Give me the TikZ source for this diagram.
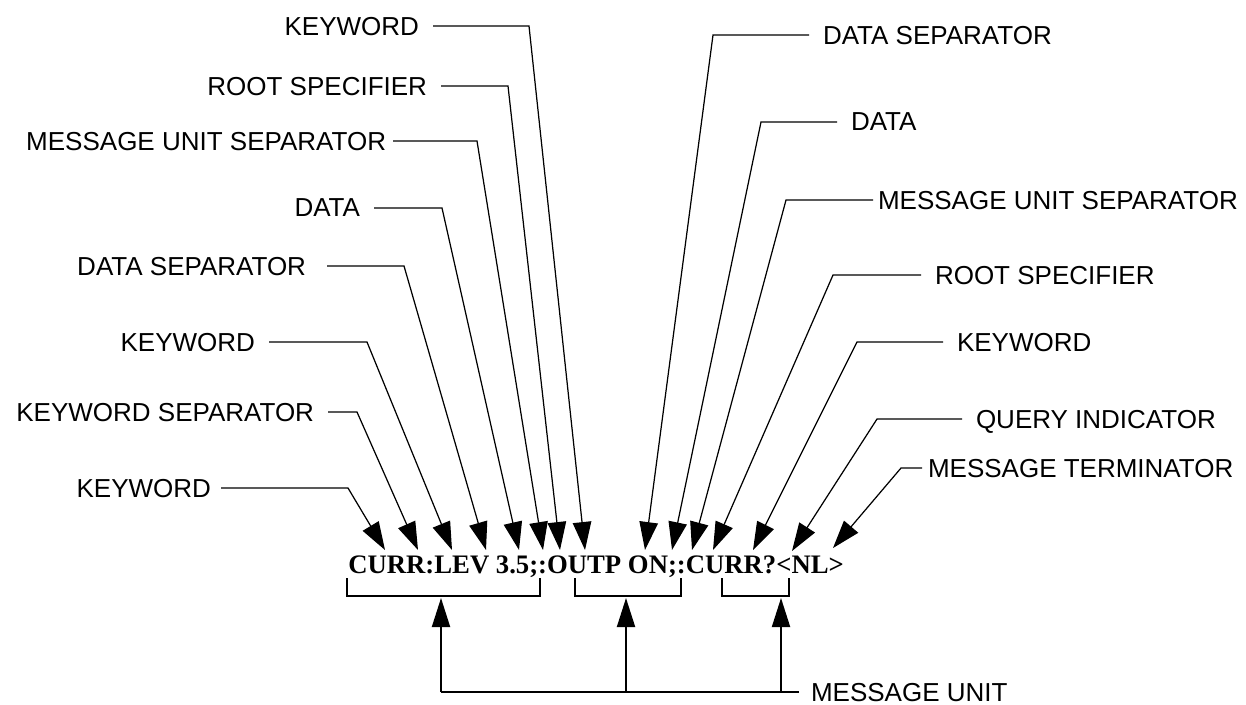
\documentclass[tikz,border=0pt]{standalone}
\usepackage{fontspec}
\setmainfont{Liberation Sans}
\newfontfamily\cmdfont{Liberation Serif}
\usetikzlibrary{arrows.meta}
\tikzstyle{partname}=[inner ysep=0pt, inner xsep=0.28cm, outer sep=0pt, text depth=0pt, font=\fontsize{14.8}{17}\selectfont]
\tikzstyle{pointer}=[-{Triangle[length=0.56cm,width=0.37cm]}, line width=0.7pt]
\tikzstyle{bracket}=[line width=1.1pt]
\tikzstyle{unitarrow}=[-{Triangle[length=0.58cm,width=0.36cm]}, line width=1.1pt]
\begin{document}
\begin{tikzpicture}[x=0.02cm,y=-0.02cm]
  \useasboundingbox (0,0) rectangle (1246,704);
  \draw (348,573) node[anchor=base west, inner sep=0pt, font=\cmdfont\bfseries\fontsize{15.2}{18}\selectfont] (cmd) {CURR:LEV 3.5;:OUTP ON;:CURR?<NL>};

  %% Points on the command
  \coordinate (T1) at (385,550);
  \coordinate (T2) at (418,550);
  \coordinate (T3) at (452,550);
  \coordinate (T4) at (486,550);
  \coordinate (T5) at (519,550);
  \coordinate (T6) at (543,550);
  \coordinate (T7) at (560,550);
  \coordinate (T8) at (585,550);
  \coordinate (T9) at (645,550);
  \coordinate (T10) at (672,550);
  \coordinate (T11) at (692,550);
  \coordinate (T12) at (713,550);
  \coordinate (T13) at (753,550);
  \coordinate (T14) at (792,551);
  \coordinate (T15) at (833,548);

  %% Left side
  \draw (433,26) node[partname,anchor=east] (kwA) {KEYWORD};
  \draw (441,86) node[partname,anchor=east] (rootA) {ROOT SPECIFIER};
  \draw (393,141) node[partname,anchor=east,inner xsep=0.14cm] (musA) {MESSAGE UNIT SEPARATOR};
  \draw (374,208) node[partname,anchor=east] (dataA) {DATA};
  \draw (327,266) node[partname,anchor=east,inner xsep=0.42cm] (dsepA) {DATA SEPARATOR};
  \draw (269,342) node[partname,anchor=east] (kwB) {KEYWORD};
  \draw (328,412) node[partname,anchor=east] (ksep) {KEYWORD SEPARATOR};
  \draw (221,488) node[partname,anchor=east,inner xsep=0.2cm] (kwC) {KEYWORD};

  \draw[pointer] (kwA) -- (529,26) -- (T8);
  \draw[pointer] (rootA) -- (508,86) -- (T7);
  \draw[pointer] (musA) -- (477,141) -- (T6);
  \draw[pointer] (dataA) -- (442,208) -- (T5);
  \draw[pointer] (dsepA) -- (404,266) -- (T4);
  \draw[pointer] (kwB) -- (367,342) -- (T3);
  \draw[pointer] (ksep) -- (357,412) -- (T2);
  \draw[pointer] (kwC) -- (348,488) -- (T1);

  %% Right side
  \draw (809,35) node[partname,anchor=west] (dsepB) {DATA SEPARATOR};
  \draw (837,122) node[partname,anchor=west] (dataB) {DATA};
  \draw (873,200) node[partname,anchor=west,inner xsep=0.1cm] (musB) {MESSAGE UNIT SEPARATOR};
  \draw (921,275) node[partname,anchor=west] (rootB) {ROOT SPECIFIER};
  \draw (943,342) node[partname,anchor=west] (kwD) {KEYWORD};
  \draw (962,419) node[partname,anchor=west] (query) {QUERY INDICATOR};
  \draw (922,468) node[partname,anchor=west,inner xsep=0.12cm] (term) {MESSAGE TERMINATOR};

  \draw[pointer] (dsepB) -- (713,35) -- (T9);
  \draw[pointer] (dataB) -- (761,122) -- (T10);
  \draw[pointer] (musB) -- (786,200) -- (T11);
  \draw[pointer] (rootB) -- (833,275) -- (T12);
  \draw[pointer] (kwD) -- (857,342) -- (T13);
  \draw[pointer] (query) -- (877,419) -- (T14);
  \draw[pointer] (term) -- (901,468) -- (T15);

  %% Message units
  \draw[bracket] (347,578) -- (347,596) -- (540,596) -- (540,578);
  \draw[bracket] (575,578) -- (575,596) -- (681,596) -- (681,578);
  \draw[bracket] (722,578) -- (722,596) -- (789,596) -- (789,578);
  \coordinate (M1) at (441,598);
  \coordinate (M2) at (626,598);
  \coordinate (M3) at (781,598);
  \coordinate (B1) at (441,692);
  \coordinate (B2) at (626,692);
  \coordinate (B3) at (781,692);
  \draw (799,692) node[partname,anchor=west,inner xsep=0.24cm] (unit) {MESSAGE UNIT};
  \draw[bracket] (unit) -- (B1);
  \draw[unitarrow] (B1) -- (M1);
  \draw[unitarrow] (B2) -- (M2);
  \draw[unitarrow] (B3) -- (M3);
\end{tikzpicture}
\end{document}
